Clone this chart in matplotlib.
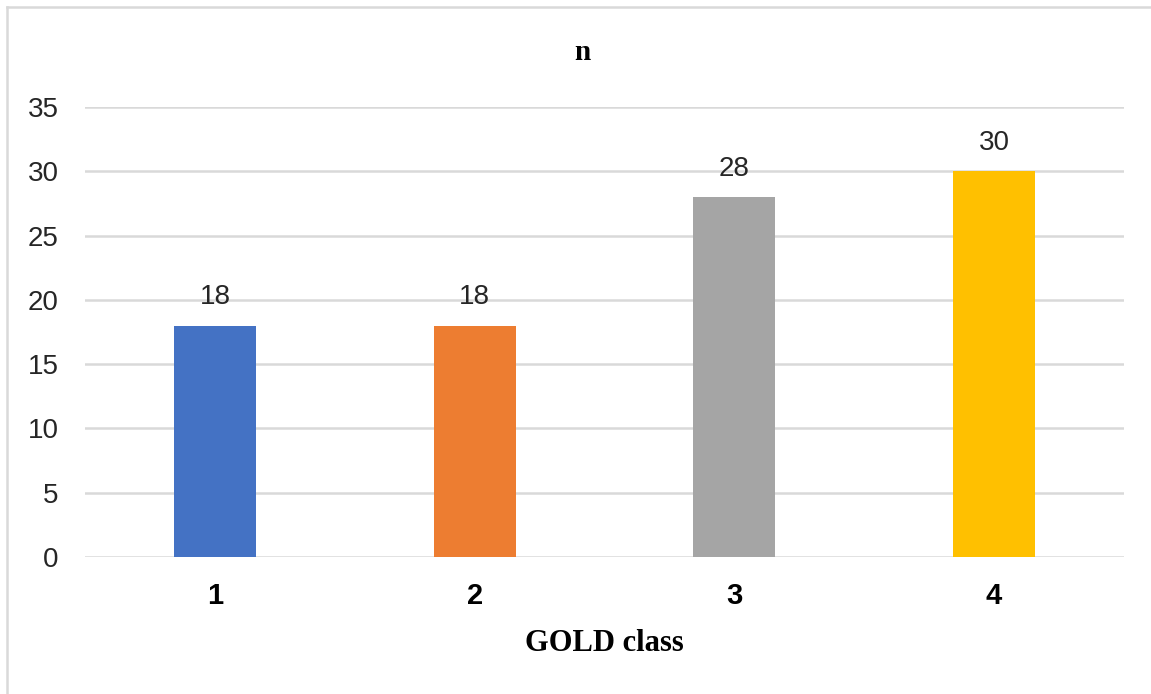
import matplotlib.pyplot as plt
from matplotlib.lines import Line2D

# GOLD class counts
classes = ["1", "2", "3", "4"]
counts = [18, 18, 28, 30]
colors = ["#4472C4", "#ED7D31", "#A5A5A5", "#FFC000"]
yticks = [0, 5, 10, 15, 20, 25, 30, 35]

fig = plt.figure(figsize=(11.51, 6.94), dpi=100)
ax = fig.add_axes([85/1151, 1-557/694, (1124-85)/1151, (557-107)/694])

pos = range(len(classes))
bars = ax.bar(pos, counts, width=0.316, color=colors, zorder=3)

for b, v in zip(bars, counts):
    ax.text(b.get_x() + b.get_width()/2, v + 1.2, str(v), ha="center", va="bottom",
            fontsize=20, family="Liberation Sans", color="#262626")

ax.set_xlim(-0.5, 3.5)
ax.set_ylim(0, 35)
ax.set_yticks(yticks)
ax.set_xticks(list(pos))
ax.set_xticklabels(classes, fontsize=21, fontweight="bold", family="Liberation Sans")
ax.set_yticklabels([str(t) for t in yticks], fontsize=20, family="Liberation Sans", color="#262626")
ax.tick_params(axis="y", length=0, pad=19)
ax.tick_params(axis="x", length=0, pad=18)
ax.grid(axis="y", color="#d9d9d9", linewidth=1.8, zorder=0)
for s in ax.spines.values():
    s.set_visible(False)

ax.set_xlabel("GOLD class", fontsize=22, fontweight="bold", family="Liberation Serif", labelpad=14)
fig.text(582/1151, 1-52/694, "n", ha="center", va="center", fontsize=21,
         fontweight="bold", family="Liberation Serif")

# outer frame, only left and top edges visible in the screenshot
fig.add_artist(Line2D([7/1151, 7/1151], [0, 1-7/694], transform=fig.transFigure, color="#d9d9d9", linewidth=1.8))
fig.add_artist(Line2D([7/1151, 1], [1-7/694, 1-7/694], transform=fig.transFigure, color="#d9d9d9", linewidth=1.8))

plt.savefig("out.png", dpi=100)
